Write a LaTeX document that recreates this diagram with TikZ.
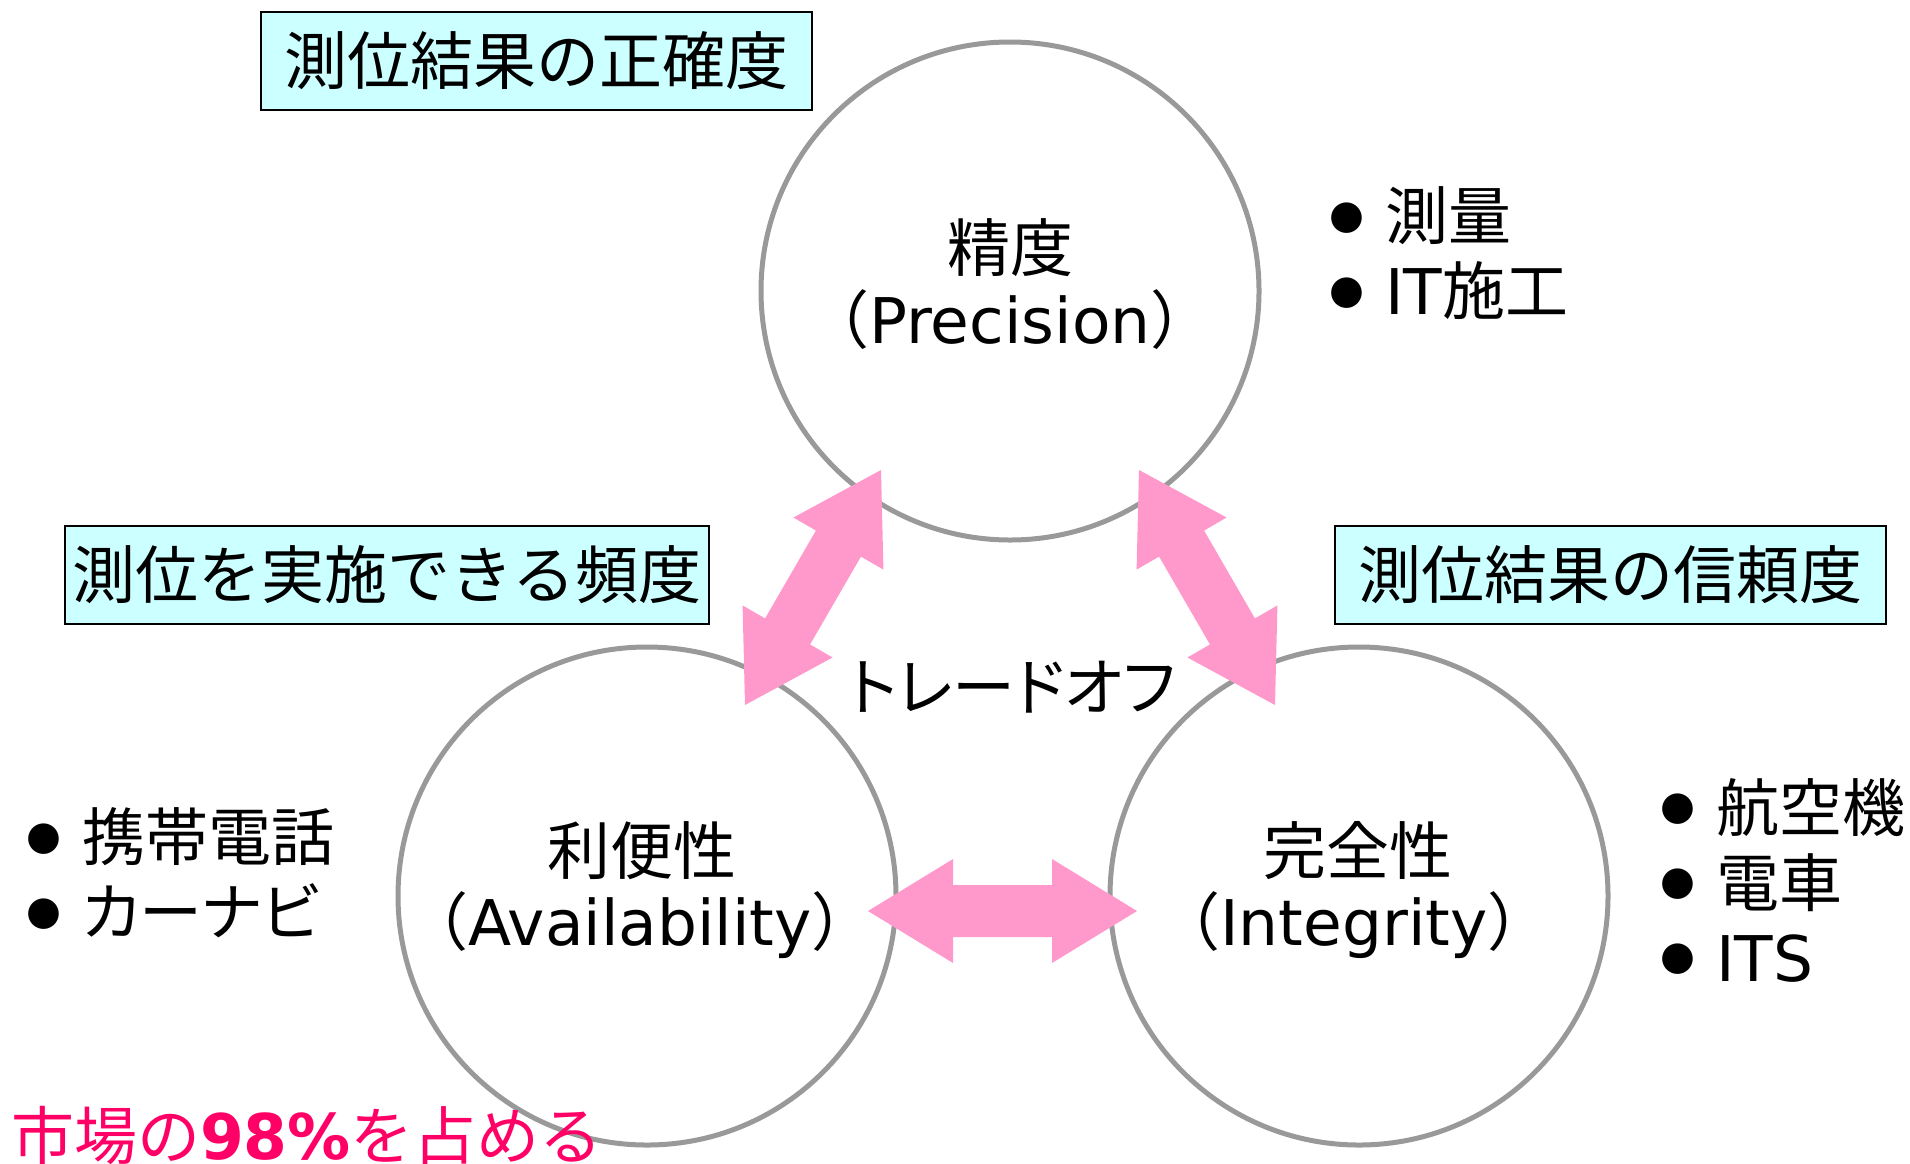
\documentclass[tikz,border=0pt]{standalone}
\usepackage{fontspec}
\setmainfont{DejaVu Sans}
\newfontfamily\jp{Noto Sans CJK JP}
\newfontfamily\jpp[RawFeature=+palt]{Noto Sans CJK JP}
\newfontfamily\lat{DejaVu Sans}
\usetikzlibrary{calc}
\definecolor{ringgray}{HTML}{999999}
\definecolor{arrowpink}{HTML}{FF99CC}
\definecolor{boxcyan}{HTML}{CCFFFF}
\definecolor{marketred}{HTML}{FF0066}
\newcommand\bul{\makebox[28pt][l]{\raisebox{5.6pt}{\lat\fontsize{20pt}{20pt}\selectfont ●}}}
\newcommand\twoheaded[2]{%
  \coordinate (#1h) at ($(#1)!42.5pt!(#2)$);
  \coordinate (#2h) at ($(#2)!42.5pt!(#1)$);
  \fill[arrowpink] (#1)
    -- ($(#1h)!26pt!90:(#2)$) -- ($(#1h)!13pt!90:(#2)$)
    -- ($(#2h)!13pt!-90:(#1)$) -- ($(#2h)!26pt!-90:(#1)$)
    -- (#2)
    -- ($(#2h)!26pt!90:(#1)$) -- ($(#2h)!13pt!90:(#1)$)
    -- ($(#1h)!13pt!-90:(#2)$) -- ($(#1h)!26pt!-90:(#2)$)
    -- cycle;}
\begin{document}
\begin{tikzpicture}[x=0.5pt,y=-0.5pt,
  every node/.style={font=\fontsize{31.5pt}{37.5pt}\selectfont, inner sep=0pt, outer sep=0pt},
  ring/.style={circle, draw=ringgray, line width=2.5pt, fill=white, minimum size=249pt},
  tagbox/.style={draw=black, line width=0.75pt, fill=boxcyan, minimum height=49pt},
  lbl/.style={anchor=center},
  blist/.style={anchor=west, align=left}]
\useasboundingbox (0,0) rectangle (1910,1163);
\clip (0,0) rectangle (1910,1163);
% circles
\node[ring] (prec) at (1010,291) {};
\node[ring] (avail) at (647,896) {};
\node[ring] (integ) at (1359,896) {};
% circle labels
\node[lbl] (prec1) at (1010,248) {\jp 精度};
\node[lbl] (prec2) at (1010,320) {{\jp （}{\lat Precision}{\jp ）}};
\node[lbl] (avail1) at (642,851) {\jp 利便性};
\node[lbl] (avail2) at (640,925) {{\jp （}{\lat Availability}{\jp ）}};
\node[lbl] (integ1) at (1358,851) {\jp 完全性};
\node[lbl] (integ2) at (1354,925) {{\jp （}{\lat Integrity}{\jp ）}};
% boxes
\node[tagbox, minimum width=275.5pt] (acc) at (536.5,61) {\jp 測位結果の正確度};
\node[tagbox, minimum width=322pt] (freq) at (387,575) {\jp 測位を実施できる頻度};
\node[tagbox, minimum width=275.5pt] (rel) at (1610.5,575) {\jp 測位結果の信頼度};
% trade-off
\node[lbl] (trade) at (1012,687) {\jpp トレードオフ};
% arrows
\coordinate (la) at (881,470);
\coordinate (lb) at (745,705);
\coordinate (ra) at (1139,470);
\coordinate (rb) at (1275,705);
\coordinate (ha) at (868,911);
\coordinate (hb) at (1137,911);
\twoheaded{la}{lb}
\twoheaded{ra}{rb}
\twoheaded{ha}{hb}
% bullet lists
\node[blist] (usesp) at (1329,253.5) {\bul{\jp 測量}\\\bul{\lat IT}{\jp 施工}};
\node[blist] (usesi) at (1660,880) {\bul{\jp 航空機}\\\bul{\jp 電車}\\\bul{\lat ITS}};
\node[blist] (usesa) at (26,872.5) {\bul{\jp 携帯電話}\\\bul{\jpp カーナビ}};
% market share
\node[anchor=base west, text=marketred] (share) at (11,1159) {{\jp 市場の}{\lat\bfseries 98\%}{\jp を占める}};
\end{tikzpicture}
\end{document}
